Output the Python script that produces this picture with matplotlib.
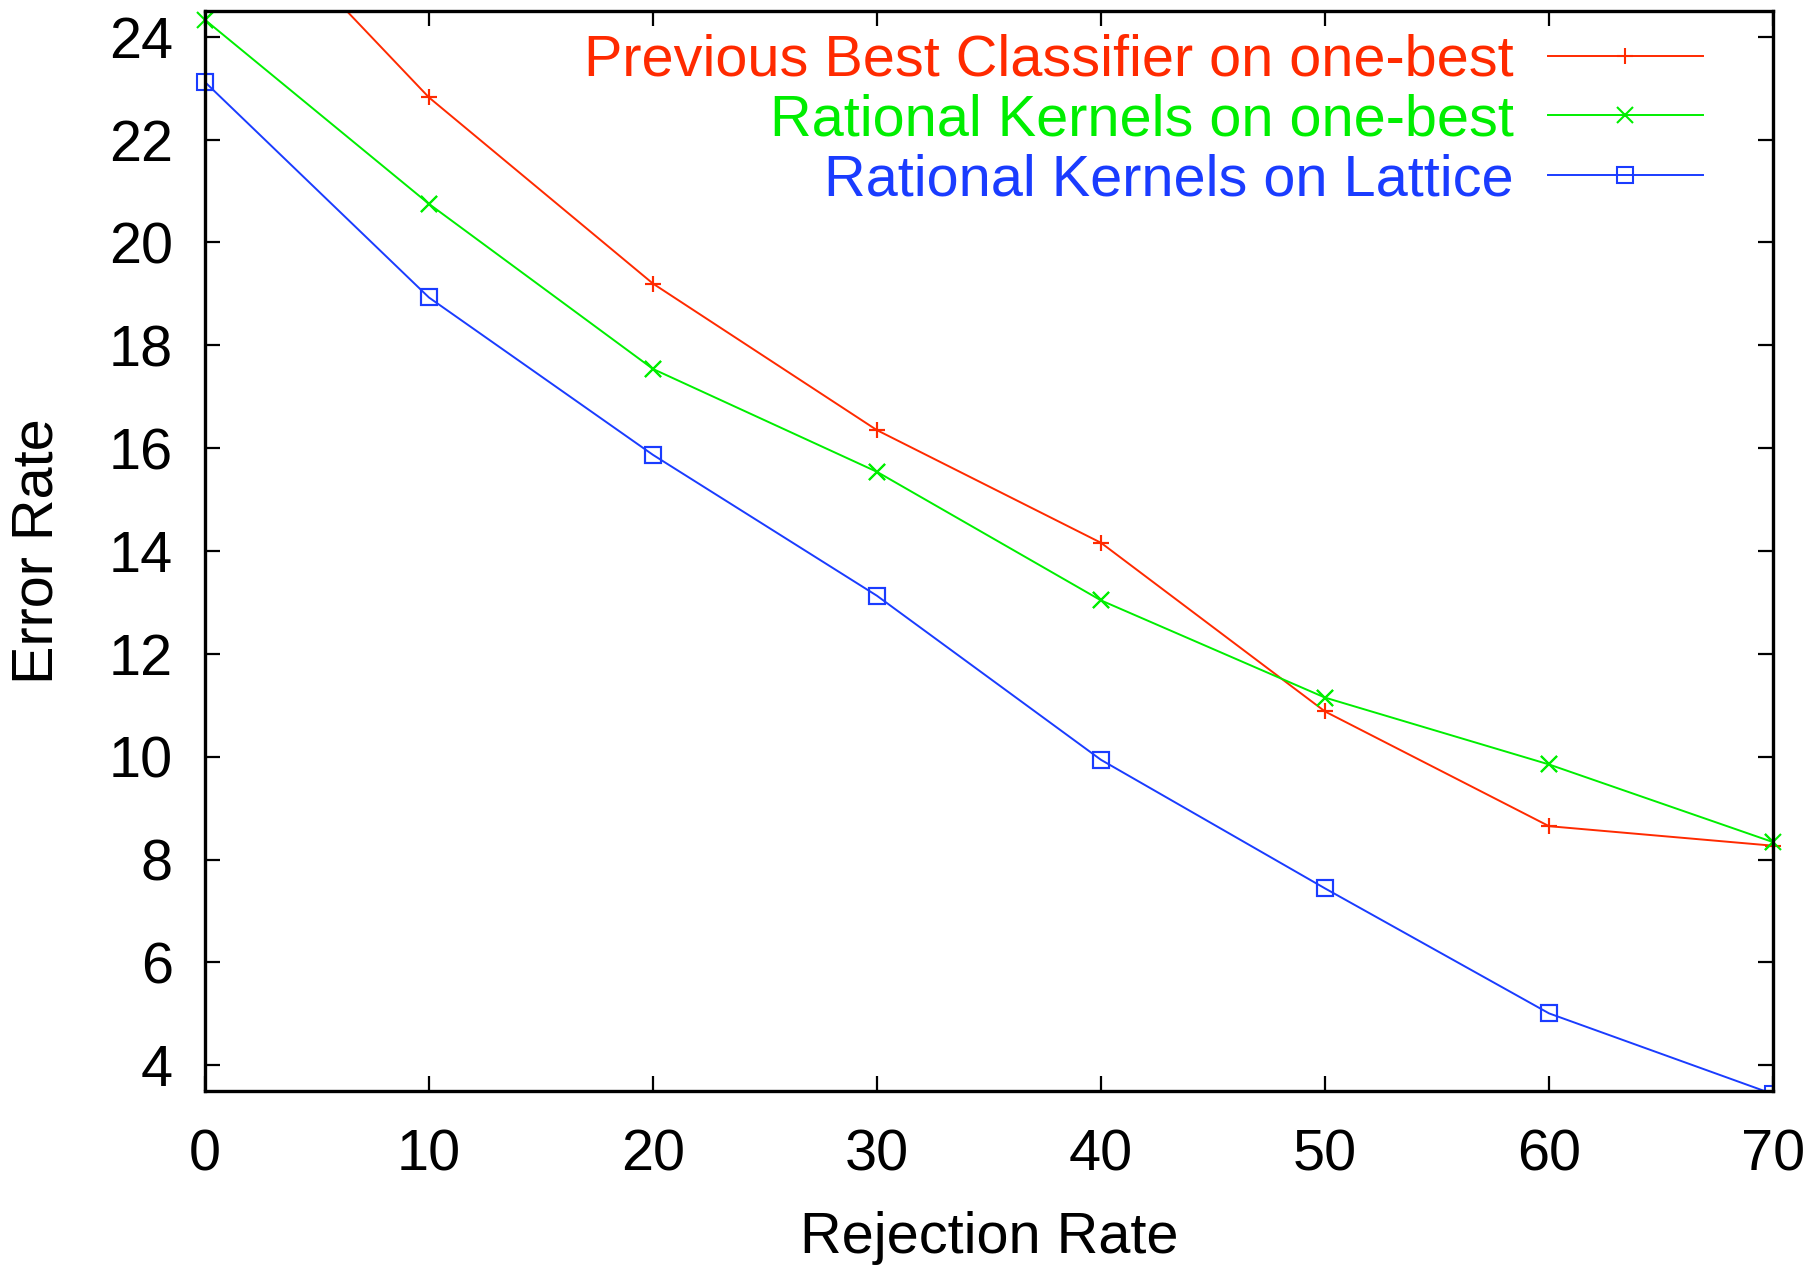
import numpy as np
import matplotlib
matplotlib.use('Agg')
import matplotlib.pyplot as plt

plt.rcParams['font.family'] = ['Liberation Sans', 'DejaVu Sans']

rejection_rate = [0, 10, 20, 30, 40, 50, 60, 70]
prev_best = [27.4, 22.82, 19.20, 16.35, 14.16, 10.88, 8.65, 8.27]
rk_one_best = [24.33, 20.75, 17.54, 15.54, 13.04, 11.15, 9.85, 8.34]
rk_lattice = [23.12, 18.93, 15.87, 13.13, 9.94, 7.44, 5.01, 3.44]

labels = ['Previous Best Classifier on one-best',
          'Rational Kernels on one-best',
          'Rational Kernels on Lattice']
colors = ['#ff2a00', '#00ee00', '#1a3cff']
markers = ['+', 'x', 's']
series = [prev_best, rk_one_best, rk_lattice]

y_min, y_max = 3.5, 24.5
fs = 41.5

fig = plt.figure(figsize=(18.15, 12.66), dpi=100)
ax = fig.add_axes([0.1129, 0.1382, 0.8640, 0.8531])

x = np.array(rejection_rate)
for ys, lab, col, mk in zip(series, labels, colors, markers):
    ys = np.array(ys)
    ax.plot(x, ys, color=col, lw=1.4, marker=mk, markersize=12,
            markeredgewidth=1.5, markerfacecolor='none', label=lab)
    # gnuplot draws in-range points without clipping them at the border
    m = (ys >= y_min) & (ys <= y_max)
    ax.plot(x[m], ys[m], ls='none', color=col, marker=mk, markersize=12,
            markeredgewidth=1.5, markerfacecolor='none', clip_on=False)

ax.set_xlim(0, 70)
ax.set_ylim(y_min, y_max)
ax.set_xticks(range(0, 71, 10))
ax.set_yticks(range(4, 25, 2))
ax.tick_params(direction='in', length=11, width=1.6, labelsize=fs,
               top=True, right=True)
ax.tick_params(axis='x', pad=27)
ax.tick_params(axis='y', pad=23)
for s in ax.spines.values():
    s.set_linewidth(2.4)

ax.set_xlabel('Rejection Rate', fontsize=fs)
ax.set_ylabel('Error Rate', fontsize=fs)
ax.xaxis.label.set_va('center')
ax.yaxis.label.set_va('center')
ax.xaxis.set_label_coords(0.5, -0.136)
ax.yaxis.set_label_coords(-0.107, 0.5)

leg = ax.legend(loc='upper right', bbox_to_anchor=(0.9554, 0.979),
                frameon=False, markerfirst=False, fontsize=fs,
                handlelength=2.7, handletextpad=0.58, labelspacing=0.1,
                borderpad=0, borderaxespad=0, numpoints=1)
for txt, col in zip(leg.get_texts(), colors):
    txt.set_color(col)

fig.savefig('out.png', dpi=100)
